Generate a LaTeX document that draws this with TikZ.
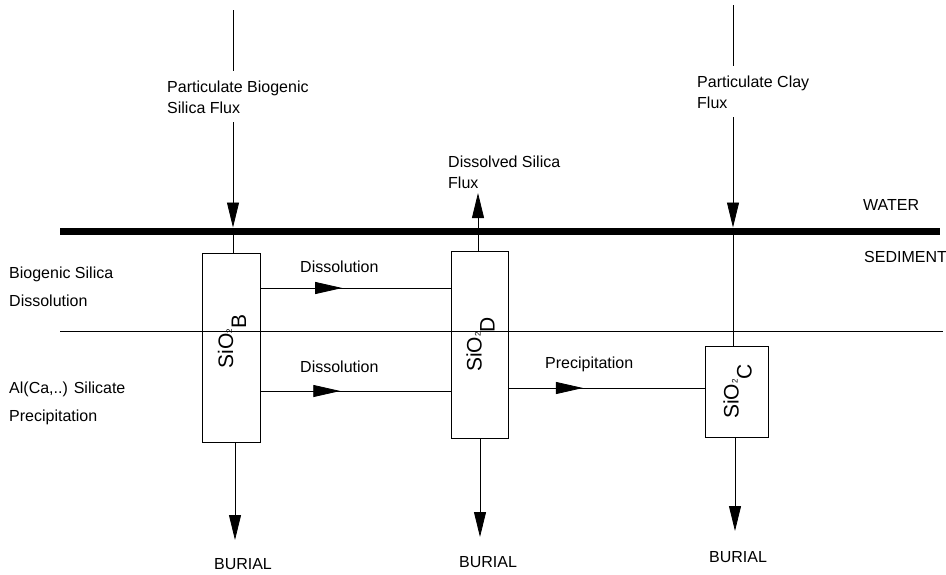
\documentclass[tikz,border=0pt]{standalone}
\usepackage{fontspec}
\setmainfont{Liberation Sans}
\usetikzlibrary{arrows.meta,decorations.markings,calc}
\begin{document}
\begin{tikzpicture}[x=1pt,y=-1pt,
  lbl/.style={anchor=base west,inner sep=0pt,font=\fontsize{16}{19}\selectfont},
  res/.style={draw,line width=0.8pt,inner sep=0pt},
  thin/.style={line width=0.8pt},
  bigtip/.style={-{Triangle[length=25pt,width=12pt]}},
  midarrow/.style={postaction={decorate},decoration={markings,
     mark=at position #1 with {\arrow{Triangle[length=27pt,width=12pt]}}}},
  rot/.style={rotate=90,font=\fontsize{21}{23}\selectfont}
]
\useasboundingbox (0,0) rectangle (946,574);

% layer lines
\coordinate (wl) at (60,231);
\coordinate (wr) at (940,231);
\coordinate (ml) at (60,331);
\coordinate (mr) at (943,331);
\draw[line width=7pt] (wl) -- (wr);
\draw[thin] (ml) -- (mr);

% reservoirs
\node[res,minimum width=58pt,minimum height=189pt] (B) at (231,347.5) {};
\node[res,minimum width=57pt,minimum height=187pt] (D) at (479.5,344.5) {};
\node[res,minimum width=63pt,minimum height=91pt] (C) at (736.5,391.5) {};
\node[rot] (tB) at ($(B.center)+(1,-6)$) {SiO\raisebox{1pt}{\fontsize{8}{9}\selectfont 2}\raisebox{-13pt}{B}};
\node[rot] (tD) at ($(D.center)+(1,0)$) {SiO\raisebox{1pt}{\fontsize{8}{9}\selectfont 2}\raisebox{-13pt}{D}};
\node[rot] (tC) at ($(C.center)+(1,0)$) {SiO\raisebox{1pt}{\fontsize{8}{9}\selectfont 2}\raisebox{-13pt}{C}};

% labels
\node[lbl] (pb1) at (167,92) {Particulate Biogenic};
\node[lbl] (pb2) at (167,113) {Silica Flux};
\node[lbl] (ds1) at (448,167) {Dissolved Silica};
\node[lbl] (ds2) at (448,188) {Flux};
\node[lbl] (pc1) at (697,87) {Particulate Clay};
\node[lbl] (pc2) at (697,108) {Flux};
\node[lbl] (water) at (863,210) {WATER};
\node[lbl] (sed) at (864,262) {SEDIMENT};
\node[lbl] (bs1) at (9,278) {Biogenic Silica};
\node[lbl] (bs2) at (9,306) {Dissolution};
\node[lbl] (al1) at (9,393) {Al(Ca,..) Silicate};
\node[lbl] (al2) at (9,421) {Precipitation};
\node[lbl] (dis1) at (300,272) {Dissolution};
\node[lbl] (dis2) at (300,372) {Dissolution};
\node[lbl] (prec) at (545,368) {Precipitation};

% burial labels
\node[lbl,anchor=base] (bu1) at (243,569) {BURIAL};
\node[lbl,anchor=base] (bu2) at (488,567) {BURIAL};
\node[lbl,anchor=base] (bu3) at (738,562) {BURIAL};

% coordinates for connectors
\coordinate (topB) at (233,10);
\coordinate (topC) at (733,5);
\coordinate (hitB) at (233,227.5);
\coordinate (hitC) at (733,227.5);
\coordinate (botB) at (233,234.5);
\coordinate (botC) at (733,234.5);
\coordinate (tipD) at (478,193);
\coordinate (endB) at (235,540);
\coordinate (endD) at (480,537);
\coordinate (endC) at (735,531);

% incoming fluxes
\draw[thin] (topB) -- ($(topB |- pb1.north)+(0,-9)$);
\draw[thin,bigtip] ($(pb2.south -| topB)+(0,9)$) -- (hitB);
\draw[thin] (botB) -- (botB |- B.north);
\draw[thin] (topC) -- ($(topC |- pc1.north)+(0,-9)$);
\draw[thin,bigtip] ($(pc2.south -| topC)+(0,9)$) -- (hitC);
\draw[thin] (botC) -- (C.north -| botC);

% dissolved flux out
\draw[thin,bigtip] (D.north -| tipD) -- (tipD);

% internal transfers
\draw[thin,midarrow=0.43] (B.east |- 0,288) -- (D.west |- 0,288);
\draw[thin,midarrow=0.42] (B.east |- 0,391) -- (D.west |- 0,391);
\draw[thin,midarrow=0.38] (D.east |- 0,388) -- (C.west |- 0,388);

% burial
\draw[thin,bigtip] (B.south -| endB) -- (endB);
\draw[thin,bigtip] (D.south -| endD) -- (endD);
\draw[thin,bigtip] (C.south -| endC) -- (endC);
\end{tikzpicture}
\end{document}
